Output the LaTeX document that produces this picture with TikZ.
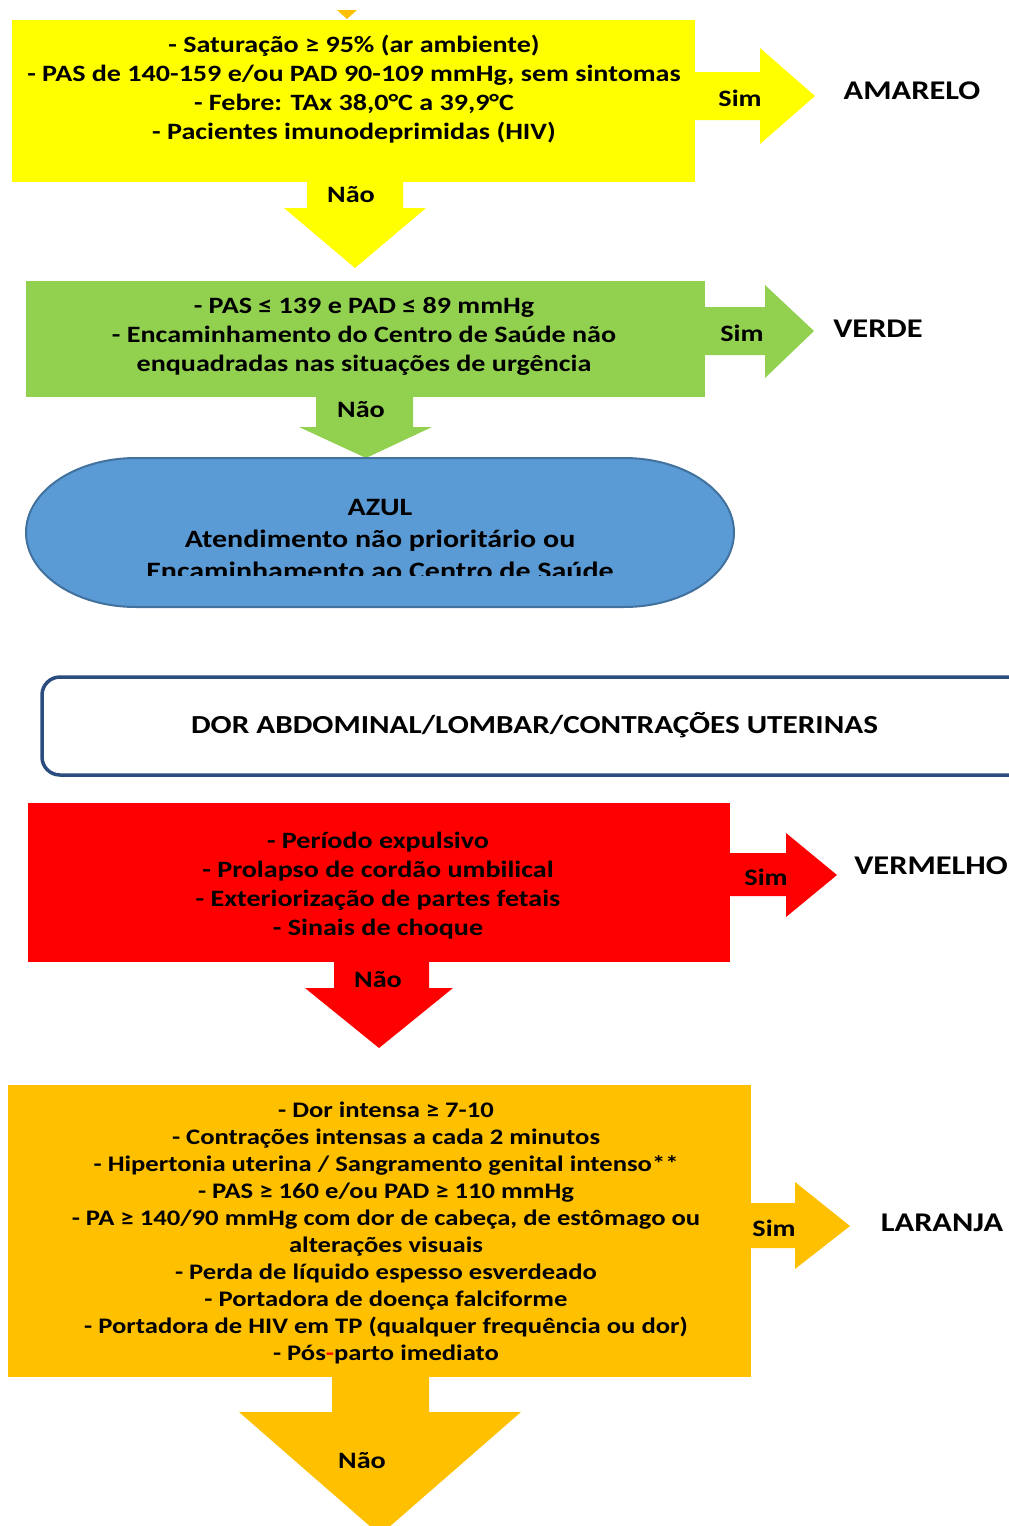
\documentclass[tikz,border=0pt]{standalone}
\usepackage{fontspec}
\setmainfont{Carlito}[FakeStretch=1.2]
\definecolor{cyellow}{HTML}{FFFF00}
\definecolor{cgreen}{HTML}{92D050}
\definecolor{cblue}{HTML}{5B9BD5}
\definecolor{cblueline}{HTML}{41719C}
\definecolor{cnavy}{HTML}{2B4C7E}
\definecolor{cred}{HTML}{FF0000}
\definecolor{corange}{HTML}{FFC000}
\begin{document}
\begin{tikzpicture}[x=1pt,y=-1pt,
  panel/.style={draw=none, inner sep=0pt, outer sep=0pt},
  txt/.style={align=center, inner sep=0pt, font=\bfseries\fontsize{23.4}{29}\selectfont},
  txtsmall/.style={align=center, inner sep=0pt, font=\bfseries\fontsize{22.2}{27}\selectfont},
  lbl/.style={inner sep=0pt, font=\bfseries\fontsize{23.5}{28}\selectfont},
  outcome/.style={inner sep=0pt, font=\bfseries\fontsize{27}{30}\selectfont},
]
\useasboundingbox (0,0) rectangle (1009,1526);
\begin{scope}
\clip (0,0) rectangle (1009,1526);

% tip of the arrow coming from the previous step
\fill[corange] (337,10) -- (357,10) -- (347,19) -- cycle;

% ---------- AMARELO ----------
\node[panel, fill=cyellow, minimum width=683pt, minimum height=162pt] (qamarelo) at (353.5,101) {};
\fill[cyellow] (693,72) -- (760,72) -- (760,48) -- (815,96) -- (760,144) -- (760,120) -- (693,120) -- cycle;
\fill[cyellow] (307,180) -- (403,180) -- (403,208) -- (426,208) -- (355,268) -- (284,208) -- (307,208) -- cycle;
\node[txt] (tamarelo) at (354,89.5) {- Saturação ≥ 95\% (ar ambiente)\\
  - PAS de 140-159 e/ou PAD 90-109 mmHg, sem sintomas\\
  - Febre: TAx 38,0°C a 39,9°C\\
  - Pacientes imunodeprimidas (HIV)};
\node[lbl] (simamarelo) at (740,98) {Sim};
\node[lbl] (naoamarelo) at (351,195) {Não};
\node[outcome] (oamarelo) at (912,91) {AMARELO};

% ---------- VERDE ----------
\node[panel, fill=cgreen, minimum width=679pt, minimum height=116pt] (qverde) at (365.5,339) {};
\fill[cgreen] (703,307) -- (765,307) -- (765,285) -- (814,331) -- (765,378) -- (765,355) -- (703,355) -- cycle;
\fill[cgreen] (316,395) -- (413,395) -- (413,427) -- (432,427) -- (366,458) -- (299,427) -- (316,427) -- cycle;
\node[txt] (tverde) at (364,336) {- PAS ≤ 139 e PAD ≤ 89 mmHg\\
  - Encaminhamento do Centro de Saúde não\\
  enquadradas nas situações de urgência};
\node[lbl] (simverde) at (742,333) {Sim};
\node[lbl] (naoverde) at (361,410) {Não};
\node[outcome] (overde) at (878,329) {VERDE};

% ---------- AZUL ----------
\path[fill=cblue, draw=cblueline, line width=2pt]
  (136,458) -- (624,458)
  .. controls (684.75,458) and (734,491.4) .. (734,532.5)
  .. controls (734,573.6) and (684.75,607) .. (624,607)
  -- (136,607)
  .. controls (75.25,607) and (26,573.6) .. (26,532.5)
  .. controls (26,491.4) and (75.25,458) .. (136,458) -- cycle;
\coordinate (qazul) at (380,532.5);
\begin{scope}
  \clip (26,458) rectangle (734,575);
  \node[align=center, inner sep=0pt, font=\bfseries\fontsize{25}{32}\selectfont] (tazul) at (380,539)
    {AZUL\\ Atendimento não prioritário ou\\ Encaminhamento ao Centro de Saúde};
\end{scope}

% ---------- title ----------
\draw[cnavy, line width=3.5pt, rounded corners=18pt, fill=white] (42,677) rectangle (1040,775);
\node[inner sep=0pt, font=\bfseries\fontsize{26}{28}\selectfont] (titulo) at (534.5,725)
  {DOR ABDOMINAL/LOMBAR/CONTRAÇÕES UTERINAS};

% ---------- VERMELHO ----------
\node[panel, fill=cred, minimum width=702pt, minimum height=159pt] (qvermelho) at (379,882.5) {};
\fill[cred] (728,853) -- (786,853) -- (786,833) -- (837,875) -- (786,917) -- (786,896) -- (728,896) -- cycle;
\fill[cred] (334,960) -- (429,960) -- (429,988) -- (453,988) -- (379,1048) -- (305,988) -- (334,988) -- cycle;
\node[txt] (tvermelho) at (378,885.5) {- Período expulsivo\\
  - Prolapso de cordão umbilical\\
  - Exteriorização de partes fetais\\
  - Sinais de choque};
\node[lbl] (simvermelho) at (766,877) {Sim};
\node[lbl] (naovermelho) at (378,980) {Não};
\node[outcome] (overmelho) at (931,866) {VERMELHO};

% ---------- LARANJA ----------
\node[panel, fill=corange, minimum width=743pt, minimum height=292pt] (qlaranja) at (379.5,1231) {};
\fill[corange] (749,1203) -- (795,1203) -- (795,1182) -- (850,1226) -- (795,1269) -- (795,1248) -- (749,1248) -- cycle;
\fill[corange] (332,1375) -- (429,1375) -- (429,1412) -- (521,1412) -- (380,1535) -- (239,1412) -- (332,1412) -- cycle;
\node[txtsmall] (tlaranja) at (386,1232.5) {- Dor intensa ≥ 7-10\\
  - Contrações intensas a cada 2 minutos\\
  - Hipertonia uterina / Sangramento genital intenso**\\
  - PAS ≥ 160 e/ou PAD ≥ 110 mmHg\\
  - PA ≥ 140/90 mmHg com dor de cabeça, de estômago ou\\
  alterações visuais\\
  - Perda de líquido espesso esverdeado\\
  - Portadora de doença falciforme\\
  - Portadora de HIV em TP (qualquer frequência ou dor)\\
  - Pós{\color{cred}-}parto imediato};
\node[lbl] (simlaranja) at (774,1228) {Sim};
\node[lbl] (naolaranja) at (362,1461) {Não};
\node[outcome] (olaranja) at (942,1223) {LARANJA};
\end{scope}
\end{tikzpicture}
\end{document}
